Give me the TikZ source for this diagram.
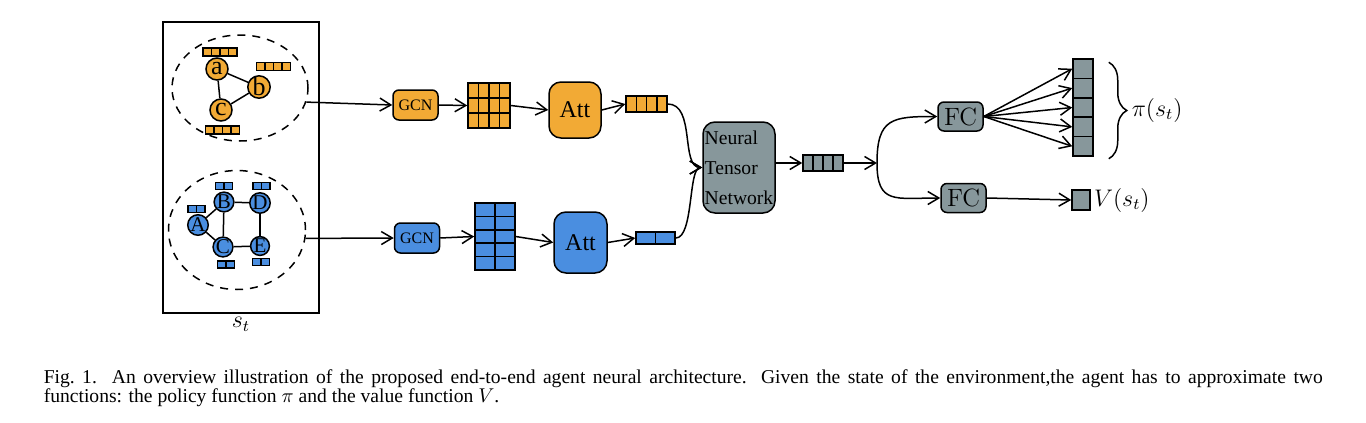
\documentclass[tikz,border=0pt]{standalone}
\usepackage{amsmath}
\usepackage{fontspec}
\newfontfamily\timesfont{Liberation Serif}
\usepackage{tikz}
\usetikzlibrary{arrows.meta}
\usetikzlibrary{positioning}
\usetikzlibrary{shapes.geometric}
\usetikzlibrary{decorations.pathreplacing}

\definecolor{gorange}{HTML}{F2AA35}
\definecolor{gblue}{HTML}{4A8EE0}
\definecolor{ggray}{HTML}{87979B}

% name, x, y, cols, rows, cell width, cell height, colour
\newcommand{\cellgrid}[8]{%
  \node[draw, fill=#8, inner sep=0pt, minimum width={#4*#6*0.5pt}, minimum height={#5*#7*0.5pt}] (#1) at (#2,#3) {};
  \foreach \ci in {1,...,#4}
    \foreach \ri in {1,...,#5}
      \draw ({#2-#4*#6/2+(\ci-1)*#6},{#3-#5*#7/2+(\ri-1)*#7}) rectangle +(#6,#7);
}

\begin{document}
\begin{tikzpicture}
		[x=0.5pt,y=-0.5pt,line width=0.75pt,>={Straight Barb[length=5.5pt,width=6.5pt]},
		vtx/.style={circle,draw,fill=gorange,inner sep=0pt,minimum size=11pt,font=\timesfont\fontsize{13}{13}\selectfont},
		vtxb/.style={circle,draw,fill=gblue,inner sep=0pt,minimum size=9pt,font=\timesfont\fontsize{10.5}{10.5}\selectfont},
		graphbox/.style={ellipse,draw,dash pattern=on 4pt off 3.5pt,inner sep=0pt},
		gcnbox/.style={draw,rounded corners=3pt,inner sep=0pt,minimum width=22.5pt,minimum height=15pt,font=\timesfont\fontsize{8}{9}\selectfont},
		attbox/.style={draw,rounded corners=6pt,inner sep=0pt,font=\timesfont\fontsize{12}{14}\selectfont},
		ntnbox/.style={draw,fill=ggray,rounded corners=6pt,inner sep=0.5pt,minimum width=36pt,minimum height=45.5pt,align=left,font=\timesfont\fontsize{9.8}{15}\selectfont},
		fcbox/.style={draw,fill=ggray,rounded corners=3pt,inner sep=0pt,minimum width=22.5pt,minimum height=14.5pt,font=\fontsize{12.5}{13}\selectfont},
		pcell/.style={draw,fill=ggray,inner sep=0pt,minimum width=10pt,minimum height=9.7pt}]
		\useasboundingbox (0,0) rectangle (1366,423);
		
		\node[draw,inner sep=0pt,minimum width=78pt,minimum height=145.5pt] (state) at (241,167.5) {};
		\node[below=-2pt of state,font=\fontsize{12}{12}\selectfont] (st) {$s_t$};
		
		\node[graphbox,minimum width=68pt,minimum height=53pt] (g1) at (240,88) {};
		\cellgrid{bara}{220}{52}{4}{1}{8.5}{8}{gorange}
		\cellgrid{barb}{273.5}{66.5}{4}{1}{8.5}{8}{gorange}
		\cellgrid{barc}{222.5}{130}{4}{1}{8.5}{8}{gorange}
		\node[vtx] (a) at (217,69) {a};
		\node[vtx] (b) at (259,87) {b};
		\node[vtx] (c) at (221,110) {c};
		\foreach \from/\to in {a/b, a/c, b/c}
		\draw (\from) -- (\to);
		
		\node[graphbox,minimum width=68.5pt,minimum height=59.5pt] (g2) at (237,230) {};
		\cellgrid{barA}{196.5}{209}{2}{1}{8.5}{7}{gblue}
		\cellgrid{barB}{224}{186}{2}{1}{8.5}{7}{gblue}
		\cellgrid{barD}{261.5}{186}{2}{1}{8.5}{7}{gblue}
		\cellgrid{barC}{226}{264.5}{2}{1}{8.5}{7}{gblue}
		\cellgrid{barE}{261}{262}{2}{1}{8.5}{7}{gblue}
		\node[vtxb] (A) at (198,225) {A};
		\node[vtxb] (B) at (224,202) {B};
		\node[vtxb] (C) at (223,247) {C};
		\node[vtxb] (D) at (260,203) {D};
		\node[vtxb] (E) at (260,246) {E};
		\foreach \from/\to in {A/B, A/C, B/C, B/D, D/E, C/E}
		\draw (\from) -- (\to);
		
		\node[gcnbox,fill=gorange] (gcn1) at (415.5,105) {GCN};
		\cellgrid{emb1}{489}{105.5}{4}{3}{10.5}{15}{gorange}
		\node[attbox,fill=gorange,minimum width=26pt,minimum height=28pt] (att1) at (575,110) {Att};
		\cellgrid{out1}{646.5}{104}{4}{1}{10.25}{16}{gorange}
		
		\node[gcnbox,fill=gblue] (gcn2) at (417,238) {GCN};
		\cellgrid{emb2}{495}{236.5}{2}{5}{20}{13.4}{gblue}
		\node[attbox,fill=gblue,minimum width=26.5pt,minimum height=30.5pt] (att2) at (580.5,242.5) {Att};
		\cellgrid{out2}{655.5}{238}{2}{1}{19.5}{12}{gblue}
		
		\draw[->] (g1.-12) -- (gcn1.west);
		\draw[->] (g2.-7) -- (gcn2.west);
		\foreach \from/\to in {gcn1/emb1, emb1/att1, att1/out1, gcn2/emb2, emb2/att2, att2/out2}
		\draw[->] (\from.east) -- (\to.west);
		
		\node[ntnbox] (ntn) at (739,167.5) {Neural\\Tensor\\Network};
		\draw[->] (out1.east) .. controls +(28,0) and +(-22,0) .. (ntn.west);
		\draw[->] (out2.east) .. controls +(18,0) and +(-14,0) .. (ntn.west);
		
		\cellgrid{out3}{823}{163}{4}{1}{10}{16}{ggray}
		\draw[->] (out3.west -| ntn.east) -- (out3.west);
		\coordinate (split) at (877,163);
		\draw[->] (out3.east) -- (split);
		
		\node[fcbox] (fcpi) at (960.5,116.5) {FC};
		\node[fcbox] (fcv) at (963.5,198) {FC};
		\draw[->] (split) .. controls +(0,-45) and +(-45,0) .. (fcpi.west);
		\draw[->] (split) .. controls +(0,42) and +(-45,0) .. (fcv.west);
		
		\foreach \k in {1,...,5}
		\node[pcell] (p\k) at (1083,{59+19.4*(\k-0.5)}) {};
		\foreach \k in {1,...,5}
		\draw[->] (fcpi.east) -- (p\k.west);
		\draw[decorate,decoration={brace,amplitude=9pt}] ([xshift=7.5pt,yshift=-2pt]p1.north east) -- ([xshift=7.5pt,yshift=-1pt]p5.south east);
		\node[anchor=west,inner sep=0pt,font=\fontsize{12}{12}\selectfont] (pilab) at (1131,110) {$\pi(s_t)$};
		
		\node[pcell,minimum width=9pt,minimum height=10pt] (vv) at (1081,200) {};
		\draw[->] (fcv.east) -- (vv.west);
		\node[right=-2pt of vv,font=\fontsize{12}{12}\selectfont] (vlab) {$V(s_t)$};
		
		\node[anchor=north west,text width=639.5pt,inner sep=0pt,align=justify,font=\timesfont\fontsize{9.8}{9.5}\selectfont] (cap) at (43,369)
		{Fig.~1.\ \ An overview illustration of the proposed end-to-end agent neural architecture. Given the state of the environment,the agent has to approximate two\linebreak functions: the policy function $\pi$ and the value function $V$.};
\end{tikzpicture}
\end{document}
